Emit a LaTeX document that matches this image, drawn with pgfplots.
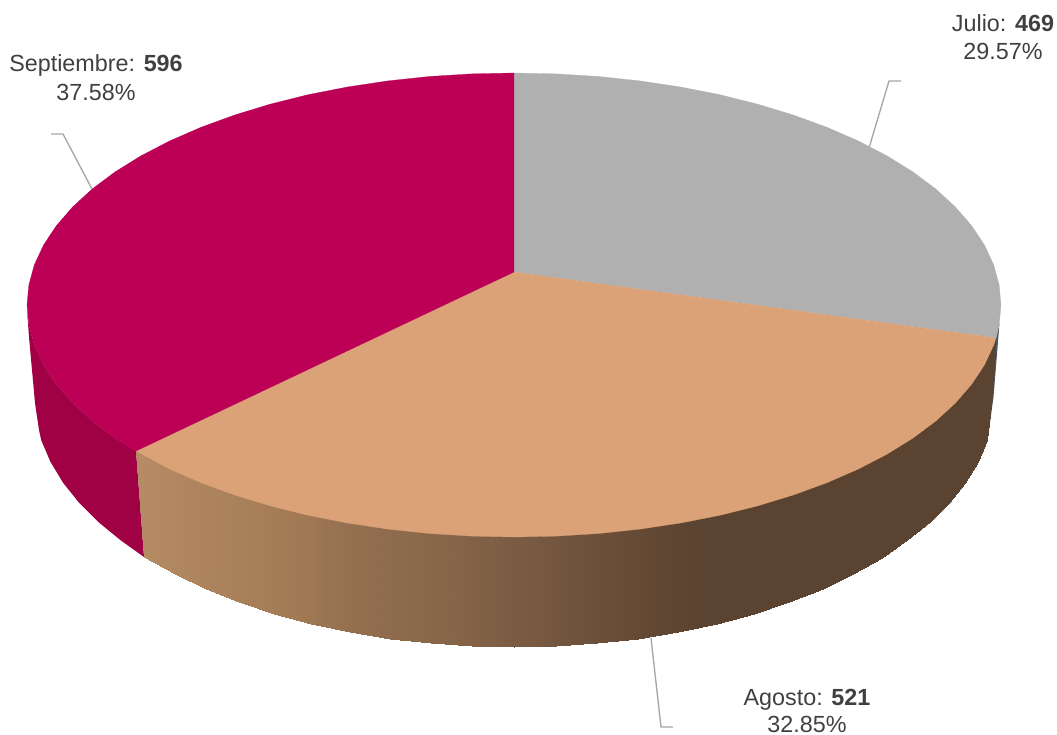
\documentclass[border=0pt]{standalone}
\usepackage{pgfplots}
\pgfplotsset{compat=1.18}
\usepackage{fontspec}
\setmainfont{Liberation Sans}
\definecolor{julio}{HTML}{B0B0B0}
\definecolor{agosto}{HTML}{DAA276}
\definecolor{sept}{HTML}{BB0055}
\definecolor{septside}{HTML}{A00044}
\definecolor{julioside}{HTML}{4D5560}
\definecolor{leader}{HTML}{A6A6A6}
\definecolor{labeltext}{HTML}{404040}
% side of the Agosto slice, light at the left and flat dark from x=700 on
\pgfplotsset{colormap={agostoside}{rgb255(0)=(181,140,99) rgb255(164)=(161,121,84) rgb255(214)=(148,112,80)
rgb255(314)=(134,101,72) rgb255(414)=(117,87,64) rgb255(514)=(99,72,52) rgb255(564)=(90,67,48) rgb255(860)=(90,67,48)}}
\newcommand{\lbl}[3]{%
\node[anchor=base,text=labeltext,font=\fontsize{17.5}{21}\selectfont,inner sep=0pt] at (axis cs:#1,#2) {#3};}
\begin{document}
\begin{tikzpicture}
\begin{axis}[
name=pie,
width=792.75pt,
height=551.25pt,
scale only axis,
hide axis,
xmin=0,
xmax=1057,
ymin=0,
ymax=735,
y dir=reverse,
clip=false
]
% sides first, the top faces cover their upper edges
\addplot[fill=julioside,draw=none] coordinates {
(999.5,323)(993.5,397)(989,430)(980,430)(996,338)};
\addplot[fill=septside,draw=none] coordinates {
(136,451)(115.1,438.1)(92.2,421)(72.6,403)(56.4,384.3)(43.6,365)(34.4,345.3)(28.9,325.2)(27,310)
(29,337)(35,403)(39,430)(41.3,440.4)(50.4,461.7)(62.9,482.5)(79,502.7)(98.3,522)(120.8,540.4)(144,557)};
\addplot[surf,shader=interp,colormap name=agostoside,mesh/rows=2,point meta=explicit,point meta min=136,point meta max=996] coordinates {
(136,451)[136] (174.6,446)[174.6] (205.5,442)[205.5] (238.7,438)[238.7] (274,433)[274] (311.1,428)[311.1] (349.8,423)[349.8]
(389.8,418)[389.8] (430.6,412)[430.6] (472.2,407)[472.2] (514,401)[514] (555.8,396)[555.8] (597.4,390)[597.4] (638.2,385)[638.2]
(678.2,380)[678.2] (716.9,375)[716.9] (754,370)[754] (789.3,365)[789.3] (822.5,361)[822.5] (853.4,357)[853.4] (881.7,353)[881.7]
(907.2,350)[907.2] (929.7,347)[929.7] (949,344)[949] (965.1,342)[965.1] (977.6,341)[977.6] (986.7,340)[986.7] (996,338)[996]
(144,557)[144] (174.6,573.8)[174.6] (205.5,588.5)[205.5] (238.7,601.8)[238.7] (274,613.5)[274] (311.1,623.6)[311.1] (349.8,631.9)[349.8]
(389.8,638.5)[389.8] (430.6,643.2)[430.6] (472.2,646)[472.2] (514,647)[514] (555.8,646)[555.8] (597.4,643.2)[597.4] (638.2,638.5)[638.2]
(678.2,631.9)[678.2] (716.9,623.6)[716.9] (754,613.5)[754] (789.3,601.8)[789.3] (822.5,588.5)[822.5] (853.4,573.8)[853.4] (881.7,557.7)[881.7]
(907.2,540.4)[907.2] (929.7,522)[929.7] (949,502.7)[949] (965.1,482.5)[965.1] (977.6,461.7)[977.6] (986.7,440.4)[986.7] (992,397)[992]
};
% top faces: Julio 469, Agosto 521, Septiembre 596
\addplot[fill=julio,draw=julio,line width=0.2pt] coordinates {
(514,272)(514,73)(556.4,73.9)(598.6,76.5)(640,80.9)(680.6,87)(719.8,94.7)(757.5,104.1)(793.3,115)
(827,127.3)(858.4,141)(887.1,155.9)(912.9,171.9)(935.8,189)(955.4,207)(971.6,225.7)(984.4,245)
(993.6,264.7)(999.1,284.8)(1001,305)(999.1,325.2)(996,338)};
\addplot[fill=agosto,draw=agosto,line width=0.2pt] coordinates {
(514,272)(996,338)(993.6,345.3)(984.4,365)(971.6,384.3)(955.4,403)(935.8,421)(912.9,438.1)(887.1,454.1)
(858.4,469)(827,482.7)(793.3,495)(757.5,505.9)(719.8,515.3)(680.6,523)(640,529.1)(598.6,533.5)
(556.4,536.1)(514,537)(471.6,536.1)(429.4,533.5)(388,529.1)(347.4,523)(308.2,515.3)(270.5,505.9)
(234.7,495)(201,482.7)(169.6,469)(136,451)};
\addplot[fill=sept,draw=sept,line width=0.2pt] coordinates {
(514,272)(136,451)(115.1,438.1)(92.2,421)(72.6,403)(56.4,384.3)(43.6,365)(34.4,345.3)(28.9,325.2)
(27,305)(28.9,284.8)(34.4,264.7)(43.6,245)(56.4,225.7)(72.6,207)(92.2,189)(115.1,171.9)(140.9,155.9)
(169.6,141)(201,127.3)(234.7,115)(270.5,104.1)(308.2,94.7)(347.4,87)(388,80.9)(429.4,76.5)(471.6,73.9)(514,73)};
% leader lines
\addplot[leader,line width=1pt] coordinates {(869,148)(889,81)(901,81)};
\addplot[leader,line width=1pt] coordinates {(92,189)(63,134)(51,134)};
\addplot[leader,line width=1pt] coordinates {(651,638)(661,727)(673,727)};
% labels
\lbl{1003}{32}{Julio: \textbf{469}}
\lbl{1003}{60}{29.57\%}
\lbl{96}{72}{Septiembre: \textbf{596}}
\lbl{96}{101}{37.58\%}
\lbl{807}{705}{Agosto: \textbf{521}}
\lbl{807}{732.5}{32.85\%}
\end{axis}
\pgfresetboundingbox
\useasboundingbox (pie.south west) rectangle (pie.north east);
\end{tikzpicture}
\end{document}
